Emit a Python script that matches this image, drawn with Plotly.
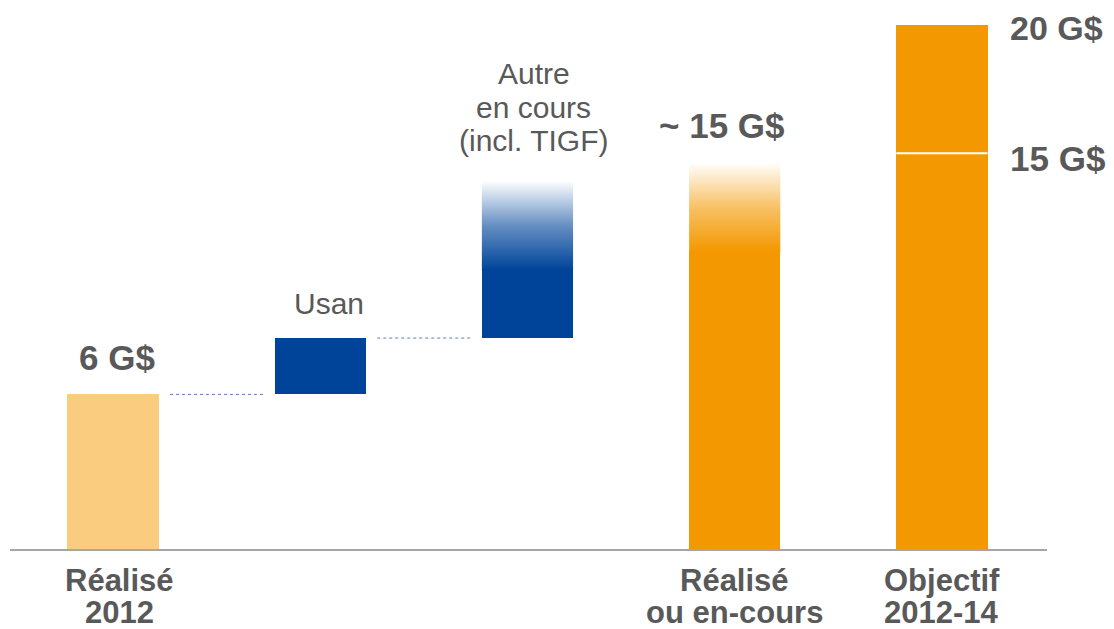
import plotly.graph_objects as go

# ---- data (G$) ----
categories = ["Réalisé 2012", "Usan", "Autre en cours (incl. TIGF)",
              "Réalisé ou en-cours", "Objectif 2012-14"]
realise_2012 = 5.9
usan = 2.15
autre = 6.0
total_encours = 14.75
objectif_low = 15.1
objectif_high = 20.0

value_labels = ["6 G$", "Usan", ["Autre", "en cours", "(incl. TIGF)"],
                "~ 15 G$", "20 G$", "15 G$"]
category_lines = {0: ["Réalisé", "2012"], 3: ["Réalisé", "ou en-cours"],
                  4: ["Objectif", "2012-14"]}

# ---- style ----
W = 0.44
GAP = 0.055
FADE = 3.4
BLUE = "rgb(0,68,154)"
ORANGE = "rgb(243,152,0)"
LIGHT_ORANGE = "#F9CC80"
GREY = "#595959"
FONT = "Liberation Sans, Arial, sans-serif"

usan_base = realise_2012
autre_base = realise_2012 + usan
autre_top = autre_base + autre

fig = go.Figure()

# solid bars
fig.add_trace(go.Bar(
    x=[0, 1, 2, 3, 4, 4],
    y=[realise_2012, usan, autre - FADE, total_encours - FADE,
       objectif_low, objectif_high - objectif_low],
    base=[0, usan_base, autre_base, 0, 0, objectif_low],
    width=W,
    marker=dict(color=[LIGHT_ORANGE, BLUE, BLUE, ORANGE, ORANGE, ORANGE],
                line=dict(width=0)),
    hoverinfo="skip", showlegend=False,
))


def fade_bar(i, top, color_rgb):
    r, g, b = color_rgb
    solid = top - FADE
    fig.add_trace(go.Scatter(
        x=[i - W / 2, i + W / 2, i + W / 2, i - W / 2, i - W / 2],
        y=[solid - 0.02, solid - 0.02, top, top, solid - 0.02],
        mode="lines", line=dict(width=0), fill="toself",
        fillgradient=dict(
            type="vertical",
            start=solid, stop=top,
            colorscale=[[0, f"rgba({r},{g},{b},1)"],
                        [0.5, f"rgba({r},{g},{b},0.6)"],
                        [1, f"rgba({r},{g},{b},0)"]],
        ),
        hoverinfo="skip", showlegend=False,
    ))


fade_bar(2, autre_top, (0, 68, 154))
fade_bar(3, total_encours, (243, 152, 0))

# connectors
for i, yv in [(0, realise_2012), (1, autre_base)]:
    fig.add_trace(go.Scatter(
        x=[i + W / 2 + GAP, i + 1 - W / 2 - GAP], y=[yv, yv],
        mode="lines", line=dict(color="#5A7EC0", width=1, dash="dot"),
        hoverinfo="skip", showlegend=False,
    ))

# white separator in objective bar
fig.add_shape(type="line", xref="x", yref="y",
              x0=4 - W / 2, x1=4 + W / 2, y0=objectif_low, y1=objectif_low,
              line=dict(color="white", width=2))

# ---- annotations ----
def ann(text, x, y, size, bold, xref="x", yref="y", yshift=0):
    fig.add_annotation(
        text=f"<b>{text}</b>" if bold else text,
        x=x, y=y, xref=xref, yref=yref, yshift=yshift,
        showarrow=False, xanchor="center", yanchor="middle",
        font=dict(family=FONT, size=size, color=GREY))


ann(value_labels[0], 0.02, realise_2012, 35, True, yshift=37)
ann(value_labels[1], 1.04, autre_base, 30, False, yshift=35)
for k, line in enumerate(value_labels[2]):
    ann(line, 2.03, autre_top, 30, False, yshift=107 - 33.5 * k)
ann(value_labels[3], 2.94, total_encours, 35, True, yshift=37)
# right-side labels (outside the x range -> paper x)
ann(value_labels[4], 1.0 + 9 / 1037, objectif_high, 34, True, xref="paper",
    yshift=-3)
ann(value_labels[5], 1.0 + 10 / 1037, objectif_low, 35, True, xref="paper",
    yshift=-5)

for i, lines in category_lines.items():
    for k, line in enumerate(lines):
        py = 580 + 32 * k
        ann(line, i + (0.03 if i == 0 else 0.0), (549 - py) / 539, 31, True,
            yref="paper")

# the page body adds an 8px offset, so the figure is 8px smaller than the window
fig.update_layout(
    width=1106, height=621,
    margin=dict(l=2, r=67, t=2, b=80),
    plot_bgcolor="white", paper_bgcolor="white",
    barmode="overlay", bargap=0,
    xaxis=dict(range=[-0.497, 4.507], showticklabels=False, showgrid=False,
               zeroline=False, showline=True, linecolor="#A6A6A6",
               linewidth=2, fixedrange=True),
    yaxis=dict(range=[0, 20.57], visible=False, showgrid=False,
               zeroline=False, fixedrange=True),
    showlegend=False,
)

fig.write_html("out.html")
